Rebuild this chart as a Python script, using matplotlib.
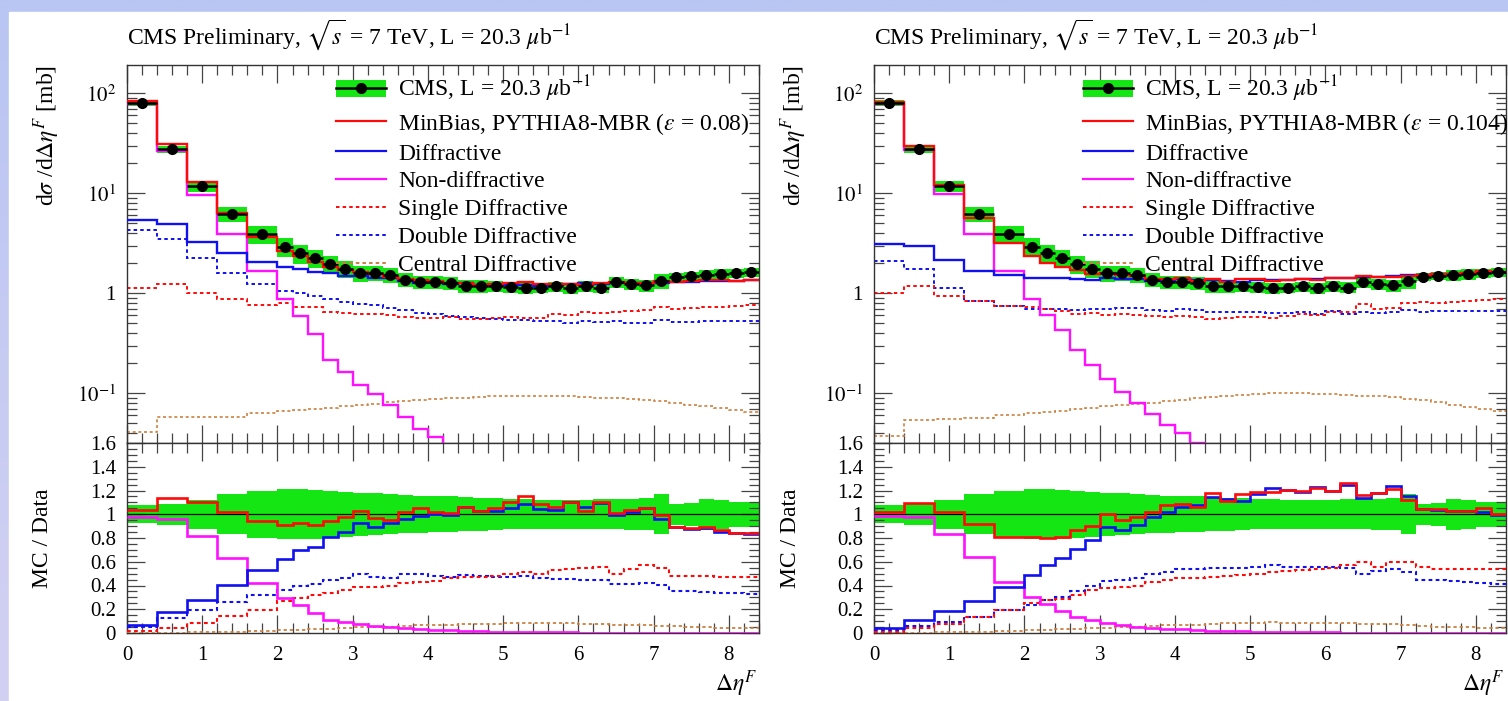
import numpy as np
import matplotlib
matplotlib.use("Agg")
import matplotlib.pyplot as plt
from matplotlib.patches import Patch, Rectangle
from matplotlib.lines import Line2D
from matplotlib.colors import LinearSegmentedColormap
from matplotlib.ticker import FixedLocator, MultipleLocator, FuncFormatter, LogLocator, NullFormatter

plt.rcParams['font.family'] = ['Liberation Serif', 'DejaVu Serif']
plt.rcParams['mathtext.fontset'] = 'stix'

# ---------------- data ----------------
bin_edges = [0.0, 0.4, 0.8, 1.2, 1.6, 2.0, 2.2, 2.4, 2.6, 2.8, 3.0, 3.2, 3.4, 3.6, 3.8,
             4.0, 4.2, 4.4, 4.6, 4.8, 5.0, 5.2, 5.4, 5.6, 5.8, 6.0, 6.2, 6.4, 6.6, 6.8,
             7.0, 7.2, 7.4, 7.6, 7.8, 8.0, 8.2, 8.4]

cms_data = [80.0, 27.5, 11.8, 6.2, 3.9, 2.93, 2.51, 2.27, 1.96, 1.75, 1.60, 1.60, 1.52, 1.37,
            1.30, 1.30, 1.26, 1.18, 1.18, 1.18, 1.16, 1.12, 1.14, 1.17, 1.12, 1.18, 1.14,
            1.29, 1.23, 1.20, 1.33, 1.46, 1.49, 1.52, 1.55, 1.58, 1.62]

cms_rel_unc = [0.075, 0.09, 0.12, 0.17, 0.20, 0.21, 0.21, 0.205, 0.20, 0.19, 0.18, 0.175,
               0.17, 0.16, 0.155, 0.15, 0.15, 0.145, 0.14, 0.135, 0.125, 0.125, 0.12, 0.12,
               0.12, 0.12, 0.125, 0.125, 0.13, 0.135, 0.17, 0.09, 0.095, 0.13, 0.12, 0.105,
               0.105]

# MC / Data ratios, left panel (epsilon = 0.08)
minbias_ratio_008 = [1.04, 1.135, 1.10, 1.02, 0.947, 0.91, 0.93, 0.91, 0.944, 0.975, 1.03,
                     0.966, 0.952, 1.017, 1.05, 1.02, 1.01, 1.065, 1.03, 1.05, 1.10, 1.15,
                     1.084, 1.065, 1.10, 1.028, 1.104, 1.01, 1.037, 1.056, 0.994, 0.896,
                     0.882, 0.896, 0.868, 0.846, 0.84]
diff_ratio_008 = [0.068, 0.178, 0.278, 0.405, 0.53, 0.624, 0.70, 0.727, 0.806, 0.851, 0.924,
                  0.896, 0.93, 0.958, 0.986, 1.00, 0.994, 1.065, 1.03, 1.03, 1.05, 1.084,
                  1.045, 1.037, 1.10, 1.065, 1.093, 0.994, 1.022, 1.056, 0.958, 0.896,
                  0.874, 0.882, 0.854, 0.84, 0.834]
nd_ratio_008 = [0.98, 0.96, 0.82, 0.635, 0.424, 0.298, 0.236, 0.171, 0.11, 0.093, 0.075,
                0.062, 0.05, 0.042, 0.034, 0.028, 0.022, 0.018, 0.015, 0.012, 0.010, 0.008,
                0.007, 0.006, 0.005, 0.004, 0.004, 0.003, 0.003, 0.003, 0.002, 0.002, 0.002,
                0.002, 0.002, 0.001, 0.001]
sd_ratio_008 = [0.014, 0.045, 0.085, 0.14, 0.195, 0.27, 0.292, 0.32, 0.334, 0.36, 0.39,
                0.39, 0.395, 0.42, 0.433, 0.44, 0.46, 0.47, 0.47, 0.48, 0.50, 0.51, 0.50,
                0.53, 0.54, 0.545, 0.56, 0.50, 0.54, 0.57, 0.55, 0.48, 0.48, 0.48, 0.475,
                0.475, 0.47]
dd_ratio_008 = [0.054, 0.126, 0.19, 0.26, 0.32, 0.362, 0.40, 0.413, 0.447, 0.466, 0.494,
                0.475, 0.466, 0.494, 0.494, 0.48, 0.47, 0.49, 0.48, 0.47, 0.47, 0.48, 0.465,
                0.455, 0.455, 0.45, 0.45, 0.41, 0.415, 0.42, 0.405, 0.35, 0.35, 0.345, 0.34,
                0.335, 0.325]
cd_xsec_008 = [0.041, 0.058, 0.058, 0.058, 0.064, 0.066, 0.068, 0.070, 0.072, 0.074, 0.077,
               0.079, 0.081, 0.083, 0.085, 0.087, 0.089, 0.090, 0.092, 0.093, 0.094, 0.095,
               0.095, 0.094, 0.093, 0.092, 0.090, 0.089, 0.087, 0.085, 0.083, 0.080, 0.077,
               0.074, 0.071, 0.068, 0.065]

# MC / Data ratios, right panel (epsilon = 0.104)
minbias_ratio_0104 = [1.022, 1.093, 1.022, 0.919, 0.812, 0.806, 0.80, 0.81, 0.868, 0.90,
                      1.00, 0.952, 0.975, 1.022, 1.08, 1.09, 1.065, 1.18, 1.11, 1.17, 1.19,
                      1.19, 1.205, 1.197, 1.22, 1.197, 1.26, 1.163, 1.18, 1.21, 1.12, 1.042,
                      1.042, 1.03, 1.028, 1.056, 1.0]
diff_ratio_0104 = [0.039, 0.107, 0.182, 0.27, 0.39, 0.489, 0.573, 0.63, 0.705, 0.784, 0.896,
                   0.868, 0.91, 0.98, 1.022, 1.065, 1.08, 1.143, 1.126, 1.11, 1.17, 1.225,
                   1.205, 1.19, 1.233, 1.197, 1.247, 1.14, 1.18, 1.24, 1.15, 1.045, 1.037,
                   1.03, 1.028, 1.017, 0.994]
nd_ratio_0104 = [0.986, 0.98, 0.834, 0.638, 0.427, 0.30, 0.244, 0.188, 0.138, 0.11, 0.087,
                 0.065, 0.053, 0.045, 0.037, 0.031, 0.025, 0.02, 0.017, 0.014, 0.011, 0.009,
                 0.008, 0.007, 0.006, 0.005, 0.004, 0.004, 0.003, 0.003, 0.003, 0.002,
                 0.002, 0.002, 0.002, 0.002, 0.001]
sd_ratio_0104 = [0.0125, 0.043, 0.08, 0.135, 0.19, 0.25, 0.28, 0.29, 0.32, 0.36, 0.376,
                 0.39, 0.40, 0.43, 0.447, 0.46, 0.46, 0.47, 0.48, 0.49, 0.50, 0.51, 0.52,
                 0.53, 0.54, 0.55, 0.57, 0.60, 0.56, 0.60, 0.60, 0.56, 0.54, 0.54, 0.54,
                 0.54, 0.54]
dd_ratio_0104 = [0.026, 0.063, 0.095, 0.135, 0.19, 0.24, 0.28, 0.306, 0.35, 0.40, 0.44,
                 0.447, 0.466, 0.50, 0.51, 0.536, 0.54, 0.55, 0.55, 0.55, 0.56, 0.57, 0.56,
                 0.56, 0.56, 0.56, 0.55, 0.50, 0.52, 0.54, 0.51, 0.45, 0.45, 0.44, 0.43,
                 0.42, 0.41]
cd_xsec_0104 = [0.037, 0.054, 0.055, 0.056, 0.060, 0.063, 0.065, 0.067, 0.069, 0.071, 0.074,
                0.076, 0.078, 0.080, 0.083, 0.086, 0.089, 0.092, 0.095, 0.097, 0.099, 0.100,
                0.100, 0.100, 0.099, 0.098, 0.097, 0.095, 0.093, 0.091, 0.088, 0.085, 0.081,
                0.077, 0.073, 0.069, 0.066]

epsilons = ["0.08", "0.104"]
x_ticks = [0, 1, 2, 3, 4, 5, 6, 7, 8]
ratio_ticks = [0, 0.2, 0.4, 0.6, 0.8, 1.0, 1.2, 1.4, 1.6]

# ---------------- styling ----------------
W, H = 1508, 701
C_GREEN = '#14e614'
C_RED = '#ff0a0a'
C_BLUE = '#1010f0'
C_MAG = '#ff10ff'
C_CD = '#cc8040'
DOT = (0, (1.8, 1.6))

fig = plt.figure(figsize=(W / 100, H / 100), dpi=100)

# slide background (gradient border + white page)
bg = fig.add_axes([0, 0, 1, 1], zorder=-10)
grad = np.linspace(0, 1, 256).reshape(-1, 1)
cmap_bg = LinearSegmentedColormap.from_list('bg', ['#b9c5f2', '#d3d1f2'])
bg.imshow(grad, aspect='auto', cmap=cmap_bg, extent=[0, 1, 0, 1], origin='upper')
bg.add_patch(Rectangle((9 / W, 0), 1, 1 - 12 / H, color='white', transform=bg.transAxes))
bg.set_xlim(0, 1); bg.set_ylim(0, 1)
bg.axis('off')

edges = np.array(bin_edges)
data = np.array(cms_data)
unc = np.array(cms_rel_unc)
left = edges[:-1]
widths = np.diff(edges)
centers = left + widths / 2

panels = [
    dict(x0=127, minbias=minbias_ratio_008, diff=diff_ratio_008, nd=nd_ratio_008,
         sd=sd_ratio_008, dd=dd_ratio_008, cd=cd_xsec_008, eps=epsilons[0]),
    dict(x0=874, minbias=minbias_ratio_0104, diff=diff_ratio_0104, nd=nd_ratio_0104,
         sd=sd_ratio_0104, dd=dd_ratio_0104, cd=cd_xsec_0104, eps=epsilons[1]),
]

FS = 17
TFS = 15

def style_ticks(ax):
    ax.tick_params(which='both', direction='in', top=True, right=True,
                   colors='#444444', labelcolor='black', labelsize=TFS)
    ax.tick_params(which='major', length=13, width=0.9)
    ax.tick_params(which='minor', length=7, width=0.9)
    for s in ax.spines.values():
        s.set_color('#333333')
        s.set_linewidth(1.0)

main_fmt = {0.1: r'$10^{-1}$', 1: '1', 10: r'$10^{1}$', 100: r'$10^{2}$'}

for p in panels:
    x0 = p['x0']
    ax = fig.add_axes([x0 / W, 1 - 443 / H, 632 / W, 378 / H])
    rx = fig.add_axes([x0 / W, 1 - 633 / H, 632 / W, 190 / H])

    minbias = np.array(p['minbias']) * data
    diff = np.array(p['diff']) * data
    nd = np.array(p['nd']) * data
    sd = np.array(p['sd']) * data
    dd = np.array(p['dd']) * data
    cd = np.array(p['cd'])

    # ---- main panel ----
    ax.bar(left, 2 * unc * data, bottom=data * (1 - unc), width=widths, align='edge',
           color=C_GREEN, lw=0, zorder=1)
    ax.stairs(cd, edges, baseline=None, color=C_CD, lw=1.2, ls=DOT, zorder=2)
    ax.stairs(dd, edges, baseline=None, color=C_BLUE, lw=1.4, ls=DOT, zorder=2)
    ax.stairs(sd, edges, baseline=None, color=C_RED, lw=1.4, ls=DOT, zorder=2)
    ax.stairs(nd, edges, baseline=None, color=C_MAG, lw=1.7, zorder=3)
    ax.stairs(diff, edges, baseline=None, color=C_BLUE, lw=1.7, zorder=3)
    ax.stairs(minbias, edges, baseline=None, color=C_RED, lw=1.7, zorder=4)
    ax.errorbar(centers, data, xerr=widths / 2, fmt='o', color='black', ms=7,
                elinewidth=1.8, capsize=0, zorder=5)

    ax.set_yscale('log')
    ax.set_ylim(10 ** -1.497, 10 ** 2.283)
    ax.set_xlim(0, 8.4)
    ax.yaxis.set_major_locator(FixedLocator([0.1, 1, 10, 100]))
    ax.yaxis.set_major_formatter(FuncFormatter(lambda v, _: main_fmt.get(round(v, 3), '')))
    ax.yaxis.set_minor_locator(LogLocator(base=10, subs=np.arange(2, 10)))
    ax.yaxis.set_minor_formatter(NullFormatter())
    ax.xaxis.set_major_locator(FixedLocator(x_ticks))
    ax.xaxis.set_minor_locator(MultipleLocator(0.2))
    style_ticks(ax)
    ax.tick_params(axis='x', labelbottom=False)
    ax.tick_params(axis='y', pad=8)

    # legend
    cms_handle = (Patch(facecolor=C_GREEN, edgecolor='none'),
                  Line2D([], [], color='black', marker='o', ms=7, lw=1.8))
    handles = [cms_handle,
               Line2D([], [], color=C_RED, lw=1.6),
               Line2D([], [], color=C_BLUE, lw=1.6),
               Line2D([], [], color=C_MAG, lw=1.6),
               Line2D([], [], color=C_RED, lw=1.4, ls=DOT),
               Line2D([], [], color=C_BLUE, lw=1.4, ls=DOT),
               Line2D([], [], color=C_CD, lw=1.4, ls=DOT)]
    labels = [r'CMS, L = 20.3 $\mu$b$^{-1}$',
              r'MinBias, PYTHIA8-MBR ($\epsilon$ = ' + p['eps'] + ')',
              'Diffractive', 'Non-diffractive', 'Single Diffractive',
              'Double Diffractive', 'Central Diffractive']
    ax.legend(handles, labels, loc='upper left', bbox_to_anchor=(0.33, 0.9765),
              frameon=False, fontsize=FS, borderpad=0, borderaxespad=0,
              labelspacing=0.27, handlelength=2.15, handletextpad=0.5)

    # title and y label
    fig.text(x0 / W, 1 - 44 / H, r'CMS Preliminary, $\sqrt{s}$ = 7 TeV, L = 20.3 $\mu$b$^{-1}$',
             fontsize=FS, ha='left', va='baseline')
    fig.text((x0 - 80) / W, 1 - 65 / H, r'd$\sigma$ /d$\Delta\eta^{F}$ [mb]', rotation=90,
             fontsize=FS, ha='center', va='top')

    # ---- ratio panel ----
    rx.bar(left, 2 * unc, bottom=1 - unc, width=widths, align='edge',
           color=C_GREEN, lw=0, zorder=1)
    rx.axhline(1.0, color='black', lw=0.9, zorder=2)
    rx.stairs(cd / data, edges, baseline=None, color=C_CD, lw=1.3, ls=DOT, zorder=3)
    rx.stairs(dd / data, edges, baseline=None, color=C_BLUE, lw=1.5, ls=DOT, zorder=3)
    rx.stairs(sd / data, edges, baseline=None, color=C_RED, lw=1.5, ls=DOT, zorder=3)
    rx.stairs(nd / data, edges, baseline=None, color=C_MAG, lw=1.9, zorder=4)
    rx.stairs(diff / data, edges, baseline=None, color=C_BLUE, lw=1.9, zorder=4)
    rx.stairs(minbias / data, edges, baseline=None, color=C_RED, lw=1.9, zorder=5)

    rx.set_xlim(0, 8.4)
    rx.set_ylim(0, 1.6)
    rx.xaxis.set_major_locator(FixedLocator(x_ticks))
    rx.xaxis.set_minor_locator(MultipleLocator(0.2))
    rx.yaxis.set_major_locator(FixedLocator(ratio_ticks))
    rx.yaxis.set_minor_locator(MultipleLocator(0.05))
    rx.yaxis.set_major_formatter(FuncFormatter(lambda v, _: f'{v:g}'))
    style_ticks(rx)
    rx.tick_params(axis='y', pad=8)
    rx.tick_params(axis='x', pad=9)
    fig.text((x0 - 84) / W, 1 - 538 / H, 'MC / Data', rotation=90, fontsize=FS,
             ha='center', va='center')
    fig.text((x0 + 630) / W, 1 - 684 / H, r'$\Delta\eta^{F}$', fontsize=FS,
             ha='right', va='center')

fig.savefig('out.png', dpi=100)
